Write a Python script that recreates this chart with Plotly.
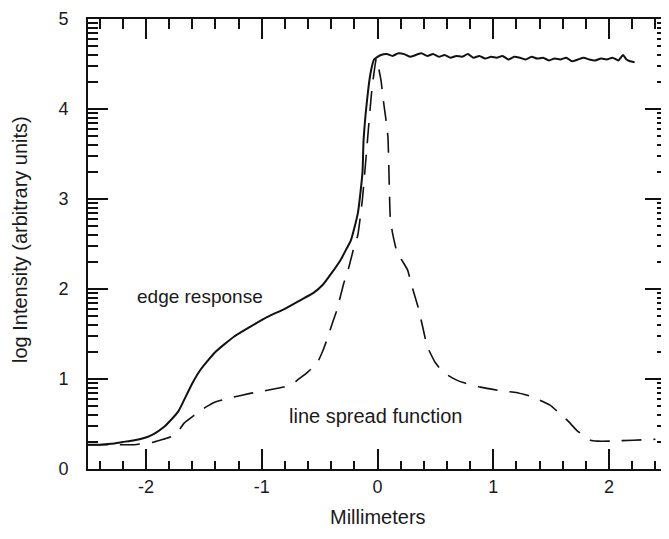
import math
import plotly.graph_objects as go

# ---------------- data ----------------
edge_x = [-2.5, -2.4, -2.3, -2.2, -2.1, -2.0, -1.93, -1.85, -1.78, -1.72, -1.68, -1.6,
          -1.53, -1.4, -1.24, -1.1, -0.95, -0.8, -0.66, -0.55, -0.47, -0.4, -0.32, -0.27,
          -0.23, -0.17, -0.13, -0.12, -0.09, -0.06, -0.03, 0.0,
          0.03, 0.08, 0.13, 0.18, 0.23, 0.28, 0.33, 0.38, 0.43, 0.48, 0.53, 0.58, 0.63,
          0.68, 0.73, 0.78, 0.83, 0.88, 0.93, 0.98, 1.03, 1.08, 1.13, 1.18, 1.23, 1.28,
          1.33, 1.38, 1.43, 1.48, 1.53, 1.58, 1.63, 1.68, 1.73, 1.78, 1.83, 1.88, 1.93,
          1.98, 2.03, 2.08, 2.12, 2.15, 2.18, 2.22]
edge_y = [0.27, 0.27, 0.28, 0.30, 0.32, 0.35, 0.39, 0.46, 0.55, 0.64, 0.74, 0.95,
          1.10, 1.30, 1.47, 1.58, 1.69, 1.78, 1.88, 1.96, 2.05, 2.17, 2.32, 2.44,
          2.54, 2.84, 3.29, 3.66, 4.10, 4.40, 4.55, 4.58,
          4.60, 4.61, 4.59, 4.62, 4.61, 4.58, 4.60, 4.62, 4.59, 4.61, 4.58, 4.60, 4.57,
          4.59, 4.58, 4.61, 4.57, 4.59, 4.56, 4.58, 4.57, 4.59, 4.55, 4.58, 4.57, 4.55,
          4.58, 4.56, 4.57, 4.54, 4.56, 4.55, 4.57, 4.53, 4.55, 4.57, 4.55, 4.54, 4.56,
          4.55, 4.57, 4.54, 4.60, 4.55, 4.53, 4.52]

lsf_x = [-2.5, -2.3, -2.1, -1.93, -1.85, -1.78, -1.72, -1.67, -1.6, -1.55, -1.48, -1.41,
         -1.3, -1.24, -1.1, -1.01, -0.85, -0.75, -0.69, -0.6, -0.52, -0.47, -0.43, -0.39,
         -0.35, -0.29, -0.26, -0.21, -0.17, -0.13, -0.09, -0.05, -0.01, 0.03, 0.05, 0.07,
         0.09, 0.10, 0.11, 0.13, 0.17, 0.22, 0.26, 0.30, 0.35, 0.39, 0.43, 0.50, 0.55,
         0.61, 0.68, 0.74, 0.89, 1.06, 1.20, 1.34, 1.49, 1.57, 1.64, 1.72, 1.78, 1.84,
         1.90, 2.01, 2.21, 2.40]
lsf_y = [0.27, 0.27, 0.27, 0.30, 0.33, 0.36, 0.42, 0.51, 0.58, 0.63, 0.69, 0.74,
         0.78, 0.80, 0.84, 0.86, 0.90, 0.93, 0.99, 1.08, 1.18, 1.32, 1.46, 1.62,
         1.77, 2.07, 2.18, 2.43, 2.60, 3.00, 3.60, 4.20, 4.56, 4.32, 4.10, 3.91,
         3.69, 3.24, 2.80, 2.62, 2.40, 2.30, 2.21, 2.02, 1.80, 1.58, 1.36, 1.18, 1.10,
         1.04, 0.99, 0.96, 0.91, 0.87, 0.85, 0.80, 0.71, 0.62, 0.54, 0.43, 0.37, 0.32,
         0.31, 0.31, 0.32, 0.33]

x_major = [-2, -1, 0, 1, 2]
x_labels = ["-2", "-1", "0", "1", "2"]
y_major = [0, 1, 2, 3, 4, 5]
y_labels = ["0", "1", "2", "3", "4", "5"]

edge_label = "edge response"
lsf_label = "line spread function"
x_title = "Millimeters"
y_title = "log Intensity (arbitrary units)"

# minor ticks: every 0.2 mm on x, log-decade ticks on y
x_minor = [round(-2.4 + 0.2 * i, 2) for i in range(25)]
x_minor = [v for v in x_minor if abs(v - round(v)) > 1e-6]
y_minor = [n + math.log10(k) for n in range(5) for k in range(2, 10)]

INK = "#111111"
TXT = "#1a1a1a"
FONT = "Liberation Sans, Arial, sans-serif"
CLEAR = "rgba(0,0,0,0)"

fig = go.Figure()
fig.add_trace(go.Scatter(x=edge_x, y=edge_y, mode="lines",
                         line=dict(color=INK, width=2, shape="spline", smoothing=0.5),
                         showlegend=False, hoverinfo="skip"))
fig.add_trace(go.Scatter(x=lsf_x, y=lsf_y, mode="lines",
                         line=dict(color=INK, width=1.6, dash="20px,12px",
                                   shape="spline", smoothing=0.4),
                         showlegend=False, hoverinfo="skip"))
# invisible traces so that the tick-only overlay axes get drawn
for k in (2, 3, 4):
    fig.add_trace(go.Scatter(x=[0], y=[0], xaxis=f"x{k}", yaxis=f"y{k}", mode="markers",
                             marker=dict(opacity=0), showlegend=False, hoverinfo="skip"))


def ax(rng, vals, side, ln, ov=None, **extra):
    d = dict(range=rng, ticks="inside", ticklen=ln, tickwidth=1.5, tickcolor=INK,
             tickmode="array", tickvals=vals, showline=True, linecolor=INK,
             linewidth=2, side=side, gridcolor=CLEAR, zerolinecolor=CLEAR)
    if ov:
        d.update(overlaying=ov, showticklabels=False)
    d.update(extra)
    return d


XR = [-2.5, 2.5]
YR = [0, 5]
# the page body has an 8px margin, so the figure is shifted by 8px
fig.update_layout(
    width=661, height=531,
    margin=dict(l=80, r=2, t=11, b=70, autoexpand=False),
    paper_bgcolor="white", plot_bgcolor="white",
    font=dict(family=FONT, size=18, color=TXT),
    xaxis=ax(XR, x_major, "bottom", 20, ticktext=x_labels,
             tickfont=dict(size=18, color=TXT)),
    yaxis=ax(YR, y_major, "left", 20, ticktext=y_labels, ticklabelstandoff=14,
             tickfont=dict(size=18, color=TXT)),
    xaxis2=ax(XR, x_minor, "bottom", 8, "x"),
    yaxis2=ax(YR, y_minor, "left", 10, "y"),
    xaxis3=ax(XR, x_major, "top", 20, "x"),
    yaxis3=ax(YR, y_major, "right", 22, "y"),
    xaxis4=ax(XR, x_minor, "top", 10, "x"),
    yaxis4=ax(YR, y_minor, "right", 10, "y"),
)

fig.add_annotation(x=-1.53, y=1.92, xref="x", yref="y", text=edge_label,
                   showarrow=False, font=dict(size=19, color=TXT))
fig.add_annotation(x=-0.02, y=0.59, xref="x", yref="y", text=lsf_label,
                   showarrow=False, font=dict(size=20, color=TXT))
fig.add_annotation(x=0, y=0, xref="x", yref="paper", text=x_title,
                   showarrow=False, yanchor="middle", yshift=-48,
                   font=dict(size=20, color=TXT))
fig.add_annotation(x=0, y=0.5, xref="paper", yref="paper", text=y_title,
                   showarrow=False, textangle=-90, xanchor="center",
                   xshift=-68, yshift=4, font=dict(size=20, color=TXT))

fig.write_html("out.html")
